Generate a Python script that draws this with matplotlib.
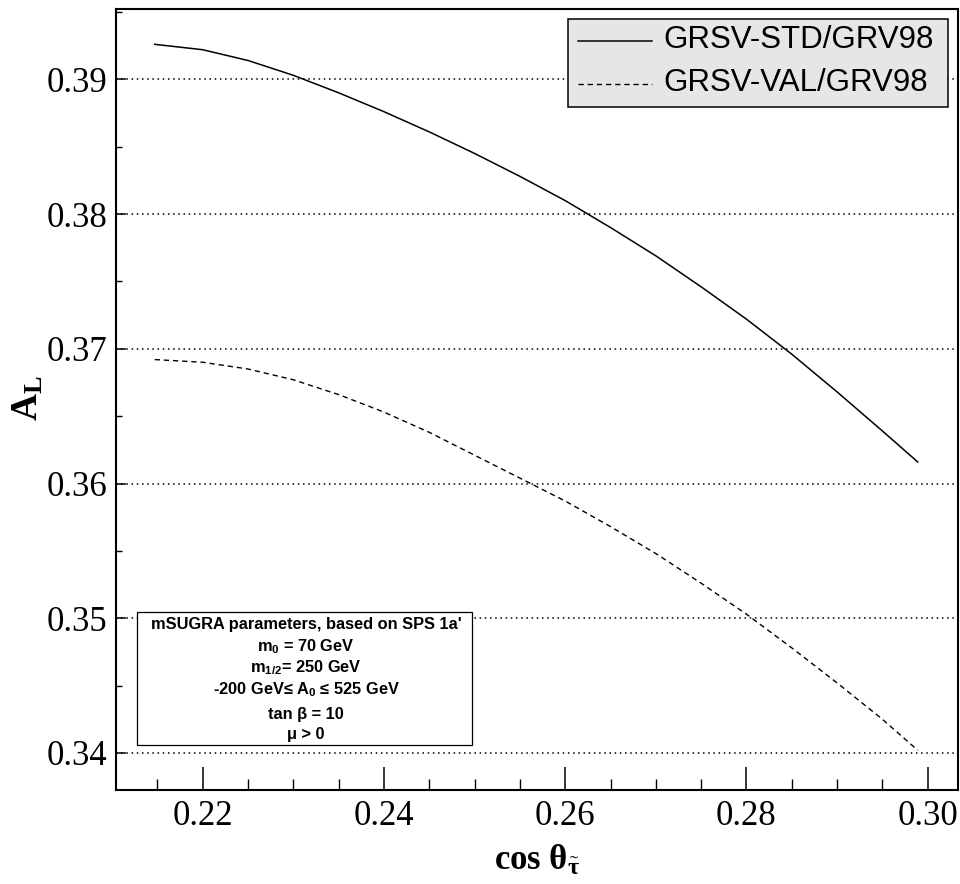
import matplotlib
matplotlib.use("Agg")
import matplotlib.pyplot as plt
from matplotlib.patches import Rectangle
from matplotlib.lines import Line2D
from matplotlib.ticker import MultipleLocator, FormatStrFormatter

plt.rcParams['mathtext.fontset'] = 'custom'
plt.rcParams['mathtext.rm'] = 'Liberation Serif'
plt.rcParams['mathtext.bf'] = 'Liberation Serif:bold'
plt.rcParams['mathtext.it'] = 'Liberation Serif:italic'
plt.rcParams['mathtext.sf'] = 'Liberation Sans:bold'

# ---------------- data ----------------
cos_theta = [0.2147, 0.220, 0.225, 0.230, 0.235, 0.240, 0.245, 0.250, 0.255,
             0.260, 0.265, 0.270, 0.275, 0.280, 0.285, 0.290, 0.295, 0.2989]
al_std = [0.3926, 0.3922, 0.3914, 0.3903, 0.3890, 0.3876, 0.3861, 0.3845, 0.3828,
          0.3810, 0.3790, 0.3769, 0.3746, 0.3722, 0.3696, 0.3668, 0.3639, 0.3616]
al_val = [0.3692, 0.3690, 0.3685, 0.3677, 0.3666, 0.3653, 0.3638, 0.3621, 0.3604,
          0.3587, 0.3568, 0.3548, 0.3526, 0.3503, 0.3478, 0.3452, 0.3425, 0.3402]
series_labels = ["GRSV-STD/GRV98", "GRSV-VAL/GRV98"]
x_ticks = [0.22, 0.24, 0.26, 0.28, 0.30]
y_ticks = [0.34, 0.35, 0.36, 0.37, 0.38, 0.39]
info_lines = [
    "mSUGRA parameters, based on SPS 1a'",
    r"m$_\mathsf{0}$ = 70 GeV",
    r"m$_\mathsf{1/2}$= 250 GeV",
    r"-200 GeV≤ A$_\mathsf{0}$ ≤ 525 GeV",
    "tan β = 10",
    "μ > 0",
]

W, H = 960, 884
def fx(x):
    return x / W
def fy(y):
    return 1 - y / H

fig = plt.figure(figsize=(W / 100, H / 100), dpi=100)
ax = fig.add_axes([fx(116), fy(790), (957.7 - 116) / W, (790 - 9.3) / H])

ax.plot(cos_theta, al_std, color='black', lw=1.1, zorder=3)
ax.plot(cos_theta, al_val, color='black', lw=1.0, linestyle=(0, (3.8, 2.8)), zorder=3)

ax.set_xlim(0.21043, 0.30331)
ax.set_ylim(0.33725, 0.39520)

ax.set_xticks(x_ticks)
ax.set_yticks(y_ticks)
ax.xaxis.set_minor_locator(MultipleLocator(0.005))
ax.yaxis.set_minor_locator(MultipleLocator(0.005))
ax.xaxis.set_major_formatter(FormatStrFormatter('%.2f'))
ax.yaxis.set_major_formatter(FormatStrFormatter('%.2f'))

ax.tick_params(axis='x', which='major', direction='in', length=16.5, width=1.1,
               pad=7, labelsize=25)
ax.tick_params(axis='x', which='minor', direction='in', length=8, width=1.0)
ax.tick_params(axis='y', which='major', direction='in', length=7, width=1.1,
               pad=6, labelsize=25)
ax.tick_params(axis='y', which='minor', direction='in', length=4.3, width=1.0)
for lab in ax.get_xticklabels() + ax.get_yticklabels():
    lab.set_fontfamily('Liberation Serif')

for s in ax.spines.values():
    s.set_linewidth(1.5)

ax.grid(axis='y', which='major', color='black', linestyle=(0, (1, 2.4)),
        linewidth=1.1, zorder=1)
ax.set_axisbelow(True)

fig.text(fx(28), fy(398), r'$\mathbf{A}_{\mathbf{L}}$', rotation=90,
         ha='center', va='center', fontsize=27)
fig.text(fx(537), fy(860), r'$\mathbf{cos\ \theta}_{\tilde{\mathbf{\tau}}}$',
         ha='center', va='center', fontsize=25)

# legend box
fig.patches.append(Rectangle((fx(568), fy(107)), (948 - 568) / W, (107 - 19) / H,
                             transform=fig.transFigure, facecolor='#e6e6e6',
                             edgecolor='black', lw=1.1, zorder=5))
fig.lines.append(Line2D([fx(578), fx(652)], [fy(41), fy(41)], transform=fig.transFigure,
                        color='black', lw=1.1, zorder=6))
fig.lines.append(Line2D([fx(578), fx(652)], [fy(84), fy(84)], transform=fig.transFigure,
                        color='black', lw=1.0, linestyle=(0, (3.8, 2.8)), zorder=6))
for lbl, yy in zip(series_labels, [40, 83]):
    fig.text(fx(663), fy(yy), lbl, ha='left', va='center', fontsize=22.5,
             family='Liberation Sans', zorder=7)

# info box
fig.patches.append(Rectangle((fx(137), fy(745)), (472 - 137) / W, (745 - 612) / H,
                             transform=fig.transFigure, facecolor='white',
                             edgecolor='black', lw=0.9, zorder=5))
for line, yy in zip(info_lines, [625, 647, 668, 690, 714, 735]):
    fig.text(fx(306), fy(yy), line, ha='center', va='center', fontsize=11.8,
             family=['Liberation Sans', 'DejaVu Sans'], weight='bold', zorder=7)

fig.savefig('out.png', dpi=100)
